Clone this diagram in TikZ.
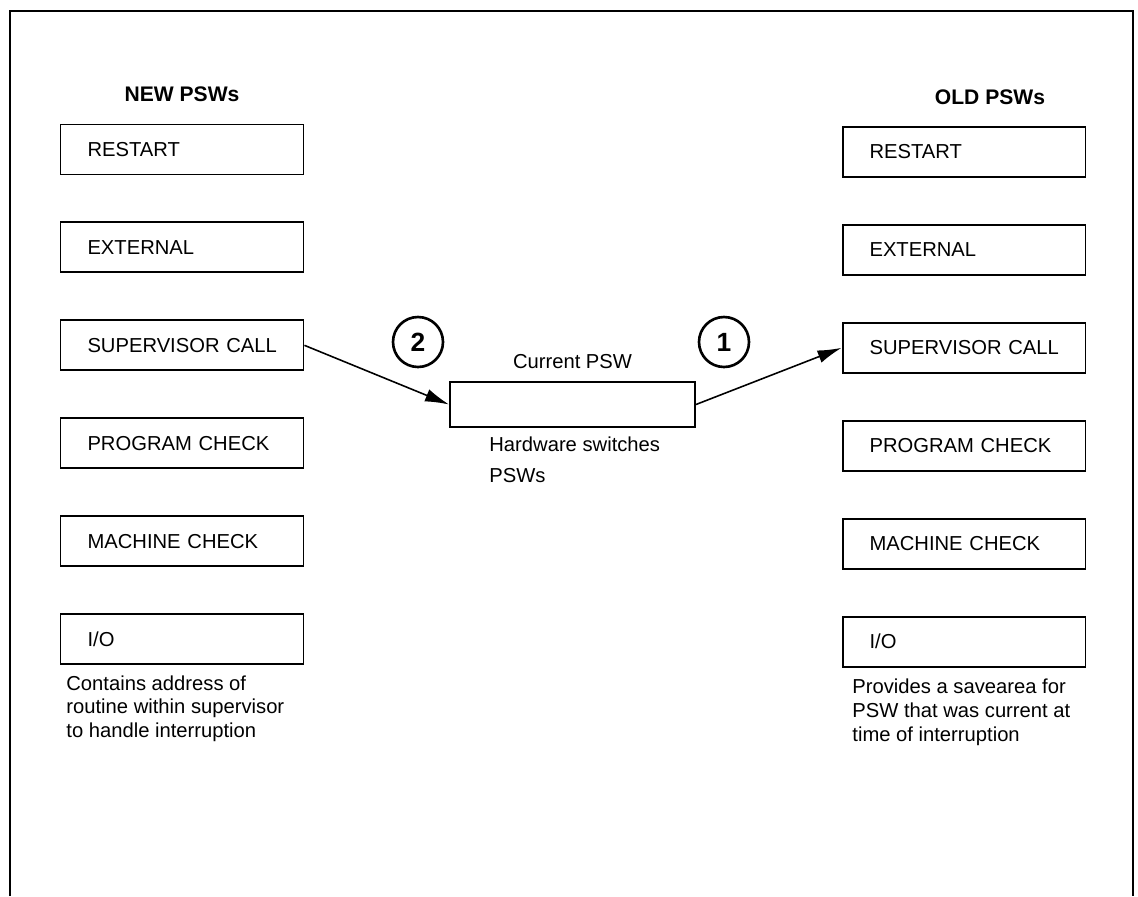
\documentclass[tikz,border=0pt]{standalone}
\usepackage{fontspec}
\setmainfont{Liberation Sans}
\usetikzlibrary{positioning}
\usetikzlibrary{arrows.meta}

\begin{document}
\begin{tikzpicture}[x=0.02cm, y=-0.02cm, node distance=0.92cm,
    every node/.style={font=\fontsize{11.5}{13.6}\selectfont},
    pswbox/.style={draw, line width=1.1pt, text width=4.86cm, minimum height=1cm, inner xsep=0pt, align=left, execute at begin node={\hspace*{0.54cm}}},
    ttl/.style={inner sep=0pt, font=\fontsize{12}{14}\selectfont\bfseries},
    note/.style={inner sep=0pt, align=left},
    circnum/.style={draw, circle, line width=1.5pt, minimum size=1cm, inner sep=0pt, font=\fontsize{15}{17}\selectfont\bfseries},
    flow/.style={-{Latex[length=0.48cm,width=0.26cm]}, line width=0.9pt}]
    \useasboundingbox (0,0) rectangle (1138,896);
    \draw[line width=1.1pt] (10,896) -- (10,11) -- (1133,11) -- (1133,896);

    \node[pswbox] (nrst) at (182,149.5) {RESTART};
    \node[pswbox,below=of nrst] (next) {EXTERNAL};
    \node[pswbox,below=of next] (nsvc) {SUPERVISOR CALL};
    \node[pswbox,below=of nsvc] (nprog) {PROGRAM CHECK};
    \node[pswbox,below=of nprog] (nmach) {MACHINE CHECK};
    \node[pswbox,below=of nmach] (nio) {I/O};
    \node[ttl,above=0.42cm of nrst] (newttl) {NEW PSWs};
    \node[note,anchor=north west] (nnote) at ([xshift=0.13cm,yshift=-0.2cm]nio.south west) {Contains address of\\routine within supervisor\\to handle interruption};

    \node[pswbox] (orst) at (964,152) {RESTART};
    \node[pswbox,below=of orst] (oext) {EXTERNAL};
    \node[pswbox,below=of oext] (osvc) {SUPERVISOR CALL};
    \node[pswbox,below=of osvc] (oprog) {PROGRAM CHECK};
    \node[pswbox,below=of oprog] (omach) {MACHINE CHECK};
    \node[pswbox,below=of omach] (oio) {I/O};
    \node[ttl,above=0.42cm of orst,xshift=0.52cm] (oldttl) {OLD PSWs};
    \node[note,anchor=north west] (onote) at ([xshift=0.21cm,yshift=-0.22cm]oio.south west) {Provides a savearea for\\PSW that was current at\\time of interruption};

    \node[draw,line width=1.1pt,minimum width=4.9cm,minimum height=0.9cm,inner sep=0pt] (cur) at (572.5,404.5) {};
    \node[inner sep=0pt,above=0.24cm of cur] (curttl) {Current PSW};
    \node[note,anchor=north west,font=\fontsize{11.5}{17.6}\selectfont] (hw) at ([xshift=0.8cm,yshift=-0.18cm]cur.south west) {Hardware switches\\PSWs};

    \node[circnum] (two) at (418,342) {2};
    \node[circnum] (one) at (724,342) {1};

    \draw[flow] (nsvc.east) -- (cur.west);
    \draw[flow] (cur.east) -- (osvc.west);
\end{tikzpicture}
\end{document}
